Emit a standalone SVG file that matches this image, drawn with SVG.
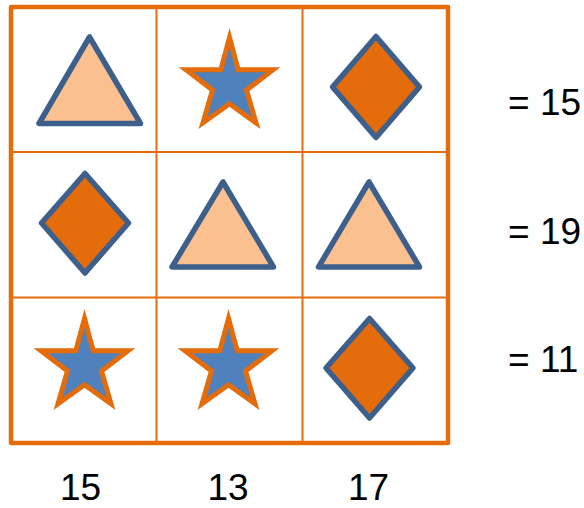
<svg xmlns="http://www.w3.org/2000/svg" width="584" height="508" viewBox="0 0 584 508">
<style>
.tri{fill:#fac090;stroke:#3d5f8b;stroke-width:5.5;stroke-linejoin:round}
.dia{fill:#e46c0a;stroke:#3d5f8b;stroke-width:5.5;stroke-linejoin:round}
.star{fill:#4f81bd;stroke:#e46c0a;stroke-width:5;stroke-linejoin:miter;stroke-miterlimit:10}
.grid{stroke:#e46c0a;stroke-width:2;fill:none}
.frame{stroke:#e46c0a;stroke-width:4.5;fill:#fff;stroke-linejoin:round}
text{font-family:"Liberation Sans",Arial,sans-serif;font-size:37px;fill:#000}
</style>
<defs>
<polygon id="s" points="0,-47.500 8.700,-15.200 43.500,-15.200 17,5 26.500,37.800 0,18.800 -26.500,37.800 -17,5 -43.500,-15.200 -8.700,-15.200"/>
</defs>
<g id="grid">
<rect class="frame" x="11" y="7" width="437" height="436"/>
<path class="grid" d="M156.500 7V443M302.500 7V443M11 152H448M11 297.500H448"/>
</g>
<g id="n1"><polygon class="tri" points="89.500,37 39,123.500 140.500,123.500"/></g>
<g id="n2"><use href="#s" class="star" x="229.500" y="85"/></g>
<g id="n3"><polygon class="dia" points="376,36.500 419.500,87 376,137.500 332.500,87"/></g>
<g id="n4"><polygon class="dia" points="85,173.500 128.500,223 85,273 41.500,223"/></g>
<g id="n5"><polygon class="tri" points="223,182 172,267 273.500,267"/></g>
<g id="n6"><polygon class="tri" points="369,182 318.500,267 419.500,267"/></g>
<g id="n7"><use href="#s" class="star" x="84.500" y="366"/></g>
<g id="n8"><use href="#s" class="star" x="228.500" y="366"/></g>
<g id="n9"><polygon class="dia" points="369.500,318.500 413,368 369.500,418 326,368"/></g>
<g id="labels">
<text x="508" y="115">= 15</text>
<text x="508" y="244.300">= 19</text>
<text x="508" y="372.300">= 11</text>
<text x="60" y="500">15</text>
<text x="207.500" y="500">13</text>
<text x="348" y="500">17</text>
</g>
</svg>
